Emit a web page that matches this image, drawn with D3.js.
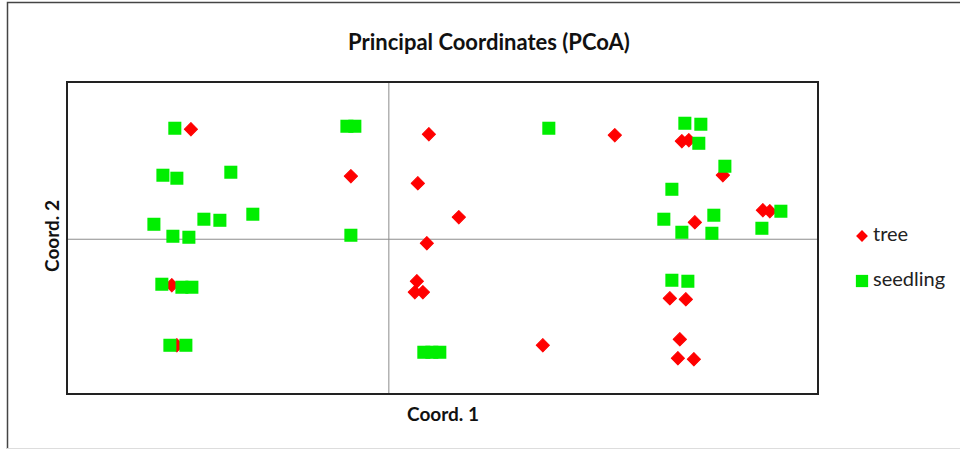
<!DOCTYPE html>
<html>
<head>
<meta charset="utf-8">
<script src="https://cdn.jsdelivr.net/npm/d3@7"></script>
<style>
  body { margin: 0; background: #fff; }
  text { font-family: Lato, "Open Sans", sans-serif; }
</style>
</head>
<body>
<div id="chart"></div>
<script>
// data (Coord. 1 / Coord. 2)
var treeX = [-0.1845, -0.0354, -0.2023, -0.1976, 0.0373, 0.2106, 0.2731, 0.2796, 0.3113, 0.0270, 0.0652, 0.2852,
    0.3486, 0.3551, 0.0354, 0.0261, 0.0242, 0.0317, 0.2619, 0.2768, 0.1435, 0.2712, 0.2694, 0.2843]
var treeY = [0.1763, 0.1010, -0.0737, -0.1699, 0.1683, 0.1667, 0.1571, 0.1587, 0.1026, 0.0897, 0.0353, 0.0272,
    0.0465, 0.0449, -0.0064, -0.0673, -0.0849, -0.0849, -0.0946, -0.0962, -0.1699, -0.1603, -0.1907, -0.1923]

var seedlingX = [-0.1995, -0.0391, -0.0317, -0.2106, -0.1976, -0.1473, -0.2190, -0.2013, -0.1864, -0.1724, -0.1575,
    -0.1268, -0.0354, -0.2116, -0.1929, -0.1836, -0.2041, -0.1892, 0.1491, 0.2759, 0.2908, 0.2889, 0.3132, 0.2638,
    0.2563, 0.3029, 0.2731, 0.3011, 0.3477, 0.3654, 0.2638, 0.2787, 0.0326, 0.0401, 0.0475]
var seedlingY = [0.1779, 0.1811, 0.1811, 0.1026, 0.0978, 0.1074, 0.0240, 0.0048, 0.0032, 0.0321, 0.0304,
    0.0401, 0.0064, -0.0721, -0.0769, -0.0769, -0.1699, -0.1699, 0.1779, 0.1859, 0.1843, 0.1538, 0.1170, 0.0801,
    0.0321, 0.0385, 0.0112, 0.0096, 0.0176, 0.0449, -0.0657, -0.0673, -0.1811, -0.1811, -0.1811]

var seriesNames = ["tree", "seedling"]
var seriesColors = ["#ff0000", "#00ee00"]

var W = 960, H = 450
var margin = { top: 82, right: 142, bottom: 56, left: 67 },
    width = W - margin.left - margin.right,
    height = H - margin.top - margin.bottom;

var svg = d3.select("#chart")
    .append("svg")
    .attr("width", W)
    .attr("height", H)

// outer frame
svg.append("path")
    .attr("d", "M7.5," + (H - 1) + "V2.5H" + W)
    .attr("fill", "none")
    .attr("stroke", "#444")
    .attr("stroke-width", 1.5)
svg.append("line")
    .attr("x1", 7).attr("x2", W)
    .attr("y1", H - 1.5).attr("y2", H - 1.5)
    .attr("stroke", "#ddd")

var g = svg.append("g")
    .attr("transform", "translate(" + margin.left + "," + margin.top + ")")

var x = d3.scaleLinear()
    .domain([-0.3, 0.4])
    .range([0, width])
var y = d3.scaleLinear()
    .domain([-0.248, 0.252])
    .range([height, 0])

// zero lines
g.append("line")
    .attr("x1", x(0)).attr("x2", x(0))
    .attr("y1", 0).attr("y2", height)
    .attr("stroke", "#8c8c8c")
g.append("line")
    .attr("x1", 0).attr("x2", width)
    .attr("y1", y(0)).attr("y2", y(0))
    .attr("stroke", "#8c8c8c")

// plot frame
g.append("rect")
    .attr("width", width)
    .attr("height", height)
    .attr("fill", "none")
    .attr("stroke", "#222")
    .attr("stroke-width", 2)

var diamond = d3.symbol().type(d3.symbolSquare).size(88)
var square = d3.symbol().type(d3.symbolSquare).size(170)

var trees = d3.zip(treeX, treeY)
var seedlings = d3.zip(seedlingX, seedlingY)

g.selectAll(".tree")
    .data(trees)
    .enter()
    .append("path")
    .attr("class", "tree")
    .attr("d", diamond)
    .attr("transform", function(d) {
        return "translate(" + x(d[0]) + "," + y(d[1]) + ") rotate(45)"
    })
    .attr("fill", seriesColors[0])
    .attr("stroke", seriesColors[0])
    .attr("stroke-linejoin", "round")

g.selectAll(".seedling")
    .data(seedlings)
    .enter()
    .append("path")
    .attr("class", "seedling")
    .attr("d", square)
    .attr("transform", function(d) {
        return "translate(" + x(d[0]) + "," + y(d[1]) + ")"
    })
    .attr("fill", seriesColors[1])

// title and axis labels
svg.append("text")
    .attr("x", 489).attr("y", 50)
    .attr("text-anchor", "middle")
    .attr("font-size", 22)
    .attr("font-weight", "bold")
    .attr("fill", "#111")
    .text("Principal Coordinates (PCoA)")

svg.append("text")
    .attr("x", 443).attr("y", 421)
    .attr("text-anchor", "middle")
    .attr("font-size", 19)
    .attr("font-weight", "bold")
    .attr("fill", "#111")
    .text("Coord. 1")

svg.append("text")
    .attr("transform", "translate(59,236) rotate(-90)")
    .attr("text-anchor", "middle")
    .attr("font-size", 19)
    .attr("font-weight", "bold")
    .attr("fill", "#111")
    .text("Coord. 2")

// legend
var legend = svg.selectAll(".legend")
    .data(seriesNames)
    .enter()
    .append("g")
    .attr("transform", function(d, i) { return "translate(862," + (236 + i * 45) + ")" })

legend.append("path")
    .attr("d", function(d, i) { return i == 0 ? d3.symbol().type(d3.symbolSquare).size(70)() : d3.symbol().type(d3.symbolSquare).size(150)() })
    .attr("transform", function(d, i) { return i == 0 ? "rotate(45)" : "" })
    .attr("fill", function(d, i) { return seriesColors[i] })

legend.append("text")
    .attr("x", 11)
    .attr("y", 5)
    .attr("font-size", 20)
    .attr("fill", "#222")
    .text(function(d) { return d })
</script>
</body>
</html>
